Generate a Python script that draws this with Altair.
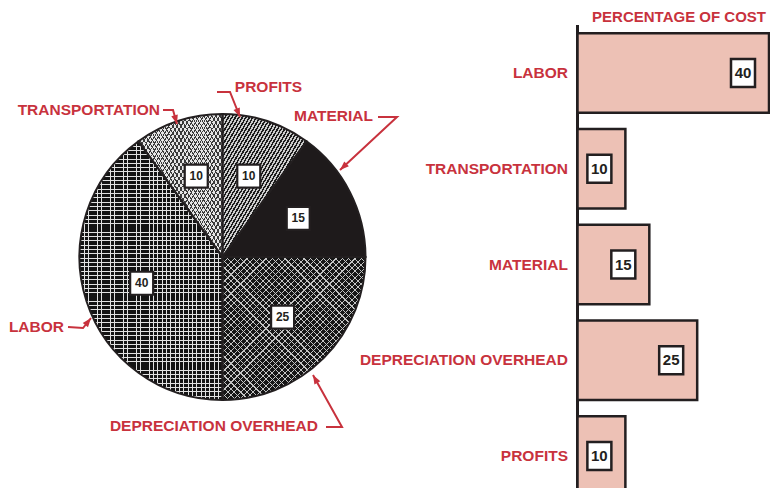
import math
import altair as alt
import pandas as pd

# ---------------- data ----------------
pie_names = ["PROFITS", "MATERIAL", "DEPRECIATION OVERHEAD", "LABOR", "TRANSPORTATION"]
pie_values = [10, 15, 25, 40, 10]

bar_names = ["LABOR", "TRANSPORTATION", "MATERIAL", "DEPRECIATION OVERHEAD", "PROFITS"]
bar_values = [40, 10, 15, 25, 10]

axis_title = "PERCENTAGE OF COST"

# ---------------- styles ----------------
RED = "#c8323d"
INK = "#231f20"
BAR_FILL = "#edc1b5"
FONT = "Liberation Sans"
CLEAR = "rgba(0,0,0,0)"


def stripes(line, bg, n, frac, direction):
    """Linear gradient with hard stops, used as a hatch texture."""
    vec = {"v": (0, 0, 1, 0), "h": (0, 0, 0, 1), "/": (0, 0, 1, 1), "\\": (0, 1, 1, 0)}[direction]
    stops = []
    for k in range(n):
        a, b, c = k / n, (k + frac) / n, (k + 1) / n
        stops += [
            {"offset": round(a, 5), "color": line},
            {"offset": round(b, 5), "color": line},
            {"offset": round(b, 5), "color": bg},
            {"offset": round(c, 5), "color": bg},
        ]
    return {"gradient": "linear", "x1": vec[0], "y1": vec[1], "x2": vec[2], "y2": vec[3], "stops": stops}


pie_patterns = {
    "PROFITS": [stripes("#1c1c1c", "#cccccc", 48, 0.48, "/")],
    "MATERIAL": ["#1e1a1b"],
    "DEPRECIATION OVERHEAD": [
        stripes("#c4c4c4", "#161616", 45, 0.18, "/"),
        stripes("#c4c4c4", CLEAR, 45, 0.18, "\\"),
    ],
    "LABOR": [
        stripes("#e2e2e2", "#141414", 33, 0.22, "v"),
        stripes("#e2e2e2", CLEAR, 60, 0.22, "h"),
    ],
    "TRANSPORTATION": [
        stripes("#3a3a3a", "#e6e6e6", 41, 0.27, "/"),
        stripes("#3a3a3a", CLEAR, 41, 0.27, "\\"),
    ],
}

# ---------------- layout (plot coordinates) ----------------
W, H = 762, 480
CX, CY, R = 214.5, 249, 143
BOX_R = 85
BAR_X = [569.5, 761]
BAR_Y = [17, 496]

# pie callouts: label anchor (right aligned) and leader path
callouts = [
    ("TRANSPORTATION", (152, 102), [(155, 102), (165, 102), (169, 116)]),
    ("PROFITS", (294, 79), [(209, 84), (222, 84), (232, 109)]),
    ("MATERIAL", (365, 108), [(370, 109), (389, 109), (332, 162)]),
    ("LABOR", (56, 319), [(60, 319), (75, 320), (83, 310)]),
    ("DEPRECIATION OVERHEAD", (310, 418), [(318, 419), (334, 419), (305, 367)]),
]

label_rows, line_rows, head_rows = [], [], []
for i, (lab, (tx, ty), path) in enumerate(callouts):
    label_rows.append({"label": lab, "tx": tx, "ty": ty})
    for j, (px, py) in enumerate(path):
        line_rows.append({"id": i, "seq": j, "lx": px, "ly": py})
    (bx, by), (ex, ey) = path[-2], path[-1]
    dx, dy = ex - bx, ey - by
    n = math.hypot(dx, dy)
    ang = math.degrees(math.atan2(dx, -dy)) % 360
    head_rows.append({"hx": ex - 4.5 * dx / n, "hy": ey - 4.5 * dy / n, "ang": ang})

labels_df = pd.DataFrame(label_rows)
lines_df = pd.DataFrame(line_rows)
heads_df = pd.DataFrame(head_rows)

pie_df = pd.DataFrame({"name": pie_names, "value": pie_values, "order": list(range(len(pie_names)))})
bar_df = pd.DataFrame({"name": bar_names, "value": bar_values})

# ---------------- pie ----------------
pos = (
    alt.Chart(pie_df)
    .transform_joinaggregate(total="sum(value)")
    .transform_window(cum="sum(value)", sort=[alt.SortField("order")], frame=[None, 0])
    .transform_calculate(
        a0="2*PI*(datum.cum - datum.value)/datum.total",
        a1="2*PI*datum.cum/datum.total",
    )
    .transform_calculate(am="(datum.a0 + datum.a1)/2")
    .transform_calculate(
        px=f"{CX} + {BOX_R}*sin(datum.am)",
        py=f"{CY} - {BOX_R}*cos(datum.am)",
    )
)

arc_enc = dict(
    theta=alt.Theta("a0:Q", scale=None),
    theta2=alt.Theta2("a1:Q"),
    x=alt.value(CX),
    y=alt.value(CY),
)

slice_layers = []
for name in pie_names:
    for fill in pie_patterns[name]:
        slice_layers.append(
            pos.transform_filter(alt.datum.name == name)
            .mark_arc(fill=fill, outerRadius=R, strokeWidth=0)
            .encode(**arc_enc)
        )

outline = pos.mark_arc(fillOpacity=0, fill="white", stroke=INK, strokeWidth=2, outerRadius=R).encode(**arc_enc)

pie_boxes = pos.mark_square(size=23 * 23, filled=True, fill="white", stroke=INK,
                            strokeWidth=2.2, opacity=1).encode(
    x=alt.X("px:Q", scale=None, axis=None),
    y=alt.Y("py:Q", scale=None, axis=None),
)
pie_nums = pos.mark_text(font=FONT, fontWeight="bold", fontSize=12, color=INK).encode(
    x=alt.X("px:Q", scale=None, axis=None),
    y=alt.Y("py:Q", scale=None, axis=None),
    text="value:Q",
)

leaders = alt.Chart(lines_df).mark_line(color=RED, strokeWidth=2).encode(
    x=alt.X("lx:Q", scale=None, axis=None),
    y=alt.Y("ly:Q", scale=None, axis=None),
    detail="id:N",
    order="seq:Q",
)
heads = alt.Chart(heads_df).mark_point(
    shape="M0,-1L0.75,1L-0.75,1Z", size=81, filled=True, color=RED, opacity=1
).encode(
    x=alt.X("hx:Q", scale=None, axis=None),
    y=alt.Y("hy:Q", scale=None, axis=None),
    angle=alt.Angle("ang:Q", scale=None),
)
pie_labels = alt.Chart(labels_df).mark_text(
    font=FONT, fontWeight="bold", fontSize=15.5, color=RED, align="right", baseline="middle"
).encode(
    x=alt.X("tx:Q", scale=None, axis=None),
    y=alt.Y("ty:Q", scale=None, axis=None),
    text="label:N",
)

# ---------------- bars ----------------
xs = alt.Scale(domain=[0, 40], range=BAR_X, nice=False, zero=True)
ys = alt.Scale(domain=bar_names, range=BAR_Y, paddingInner=0.169, paddingOuter=0.087)
base_bar = alt.Chart(bar_df)

axis_line = alt.Chart(bar_df).mark_rule(color=INK, strokeWidth=2.5).encode(
    x=alt.value(BAR_X[0]), y=alt.value(BAR_Y[0]), y2=alt.value(H + 10)
)
bars = base_bar.mark_bar(fill=BAR_FILL, stroke=INK, strokeWidth=2.5, opacity=1).encode(
    x=alt.X("value:Q", scale=xs, axis=None),
    y=alt.Y("name:N", scale=ys, axis=None, sort=bar_names),
)
bar_boxes = base_bar.mark_point(
    shape="M-0.857,-1L0.857,-1L0.857,1L-0.857,1Z", size=28 * 28, filled=True,
    fill="white", stroke=INK, strokeWidth=2.5, opacity=1, xOffset=-26
).encode(
    x=alt.X("value:Q", scale=xs, axis=None),
    y=alt.Y("name:N", scale=ys, axis=None, sort=bar_names),
)
bar_nums = base_bar.mark_text(font=FONT, fontWeight="bold", fontSize=15, color=INK, dx=-26).encode(
    x=alt.X("value:Q", scale=xs, axis=None),
    y=alt.Y("name:N", scale=ys, axis=None, sort=bar_names),
    text="value:Q",
)
bar_labels = base_bar.mark_text(
    font=FONT, fontWeight="bold", fontSize=15.5, color=RED, align="right", baseline="middle"
).encode(
    x=alt.value(560),
    y=alt.Y("name:N", scale=ys, axis=None, sort=bar_names),
    text="name:N",
)
title = alt.Chart(pd.DataFrame({"t": [axis_title]})).mark_text(
    font=FONT, fontWeight="bold", fontSize=15, color=RED, align="right", baseline="middle"
).encode(x=alt.value(758), y=alt.value(9), text="t:N")

chart = (
    alt.layer(*slice_layers, outline, pie_boxes, pie_nums, leaders, heads, pie_labels,
              axis_line, bars, bar_boxes, bar_nums, bar_labels, title)
    .resolve_scale(x="independent", y="independent")
    .properties(width=W, height=H, padding=0, autosize="none")
    .configure_view(stroke=None)
)

chart.save("out.html", embed_options={"renderer": "svg", "actions": False})
